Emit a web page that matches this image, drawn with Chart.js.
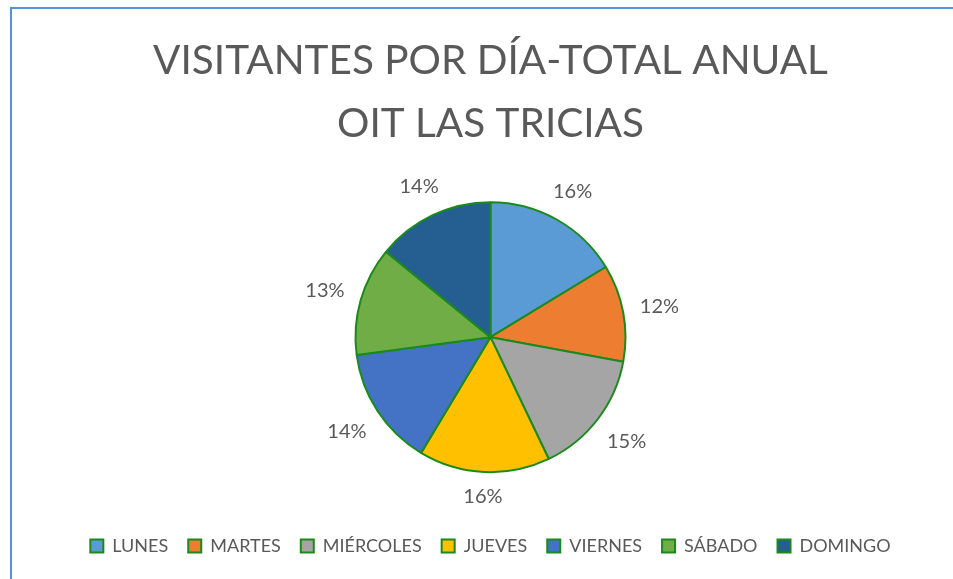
<!DOCTYPE html>
<html>
<head>
<meta charset="utf-8">
<script src="https://cdn.jsdelivr.net/npm/chart.js@4.4.1/dist/chart.umd.min.js"></script>
<style>
  html, body { margin: 0; padding: 0; background: #ffffff; }
  #wrap { width: 953px; height: 579px; position: relative; }
</style>
</head>
<body>
<div id="wrap"><canvas id="c" width="953" height="579"></canvas></div>
<script>
const titleLines = ['VISITANTES POR DÍA-TOTAL ANUAL', 'OIT LAS TRICIAS'];
const days = ['LUNES', 'MARTES', 'MIÉRCOLES', 'JUEVES', 'VIERNES', 'SÁBADO', 'DOMINGO'];
const shares = [16.3, 11.6, 15.0, 15.7, 14.3, 13.0, 14.1];
const sliceColors = ['#5B9BD5', '#ED7D31', '#A5A5A5', '#FFC000', '#4472C4', '#70AD47', '#255E91'];

const FONT = 'Lato, "Open Sans", "Liberation Sans", sans-serif';
const TEXT = '#595959';

const framePlugin = {
  id: 'frame',
  beforeDraw(chart) {
    const ctx = chart.ctx;
    ctx.save();
    ctx.fillStyle = '#ffffff';
    ctx.fillRect(0, 0, chart.width, chart.height);
    ctx.strokeStyle = '#5592DA';
    ctx.lineWidth = 2;
    ctx.beginPath();
    ctx.moveTo(11, chart.height);
    ctx.lineTo(11, 8);
    ctx.lineTo(chart.width, 8);
    ctx.stroke();
    ctx.restore();
  }
};

const pctLabels = {
  id: 'pctLabels',
  afterDatasetsDraw(chart) {
    const ctx = chart.ctx;
    const meta = chart.getDatasetMeta(0);
    const vals = chart.data.datasets[0].data;
    const total = vals.reduce((a, b) => a + b, 0);
    ctx.save();
    ctx.font = '20px ' + FONT;
    ctx.fillStyle = TEXT;
    ctx.textAlign = 'center';
    ctx.textBaseline = 'middle';
    meta.data.forEach((arc, i) => {
      const p = arc.getProps(['x', 'y', 'startAngle', 'endAngle', 'outerRadius'], true);
      const mid = (p.startAngle + p.endAngle) / 2;
      const dx = Math.cos(mid), dy = Math.sin(mid);
      const txt = Math.round(vals[i] / total * 100) + '%';
      const w = ctx.measureText(txt).width;
      const h = 16;
      const d = p.outerRadius + 16 + Math.abs(dx) * w / 2 + Math.abs(dy) * h / 2;
      ctx.fillText(txt, p.x + dx * d, p.y + dy * d);
    });
    ctx.restore();
  }
};

new Chart(document.getElementById('c'), {
  type: 'pie',
  data: {
    labels: days,
    datasets: [{
      data: shares,
      backgroundColor: sliceColors,
      borderColor: '#1A8A1A',
      borderWidth: 2
    }]
  },
  options: {
    responsive: false,
    animation: false,
    radius: 135,
    layout: { padding: { left: 28, right: 0, top: 0, bottom: 14 } },
    plugins: {
      title: {
        display: true,
        text: titleLines,
        color: TEXT,
        font: { family: FONT, size: 40.5, weight: 'normal', lineHeight: 1.56 },
        padding: { top: 29, bottom: 2 }
      },
      legend: {
        position: 'bottom',
        labels: {
          color: TEXT,
          font: { family: FONT, size: 18 },
          boxWidth: 13,
          boxHeight: 13,
          padding: 20
        }
      },
      tooltip: { enabled: false }
    }
  },
  plugins: [framePlugin, pctLabels]
});
</script>
</body>
</html>
